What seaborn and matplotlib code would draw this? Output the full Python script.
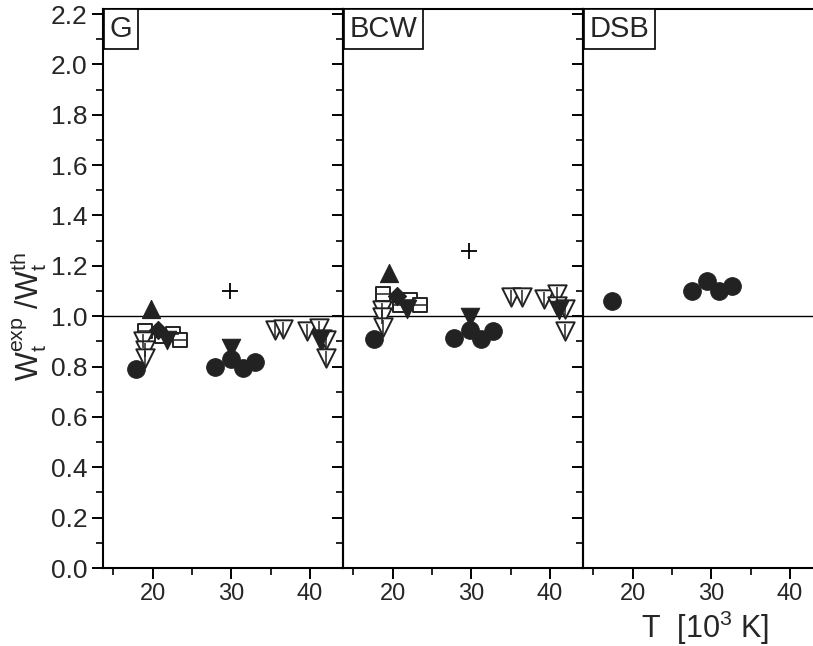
import seaborn as sns
import matplotlib.pyplot as plt
import pandas as pd

# ---- data (T in 10^3 K, ratio W_exp / W_th) ----
panels = ["G", "BCW", "DSB"]

# G
g_circle_T = [17.9, 27.9, 30.0, 31.5, 33.0]
g_circle_W = [0.79, 0.80, 0.83, 0.795, 0.82]
g_tri_up_T = [19.8]
g_tri_up_W = [1.03]
g_diamond_T = [20.7]
g_diamond_W = [0.945]
g_square_T = [19.0, 21.2, 22.6, 23.5]
g_square_W = [0.94, 0.92, 0.93, 0.905]
g_tri_dn_T = [21.8, 30.0, 41.3]
g_tri_dn_W = [0.905, 0.875, 0.905]
g_open_dn_T = [18.8, 19.0, 19.0, 35.6, 36.6, 39.6, 41.1, 41.5, 42.1, 42.1]
g_open_dn_W = [0.90, 0.865, 0.835, 0.945, 0.948, 0.94, 0.952, 0.91, 0.905, 0.835]
g_plus_T = [29.9]
g_plus_W = [1.10]

# BCW
b_circle_T = [17.6, 27.8, 29.8, 31.3, 32.8]
b_circle_W = [0.91, 0.915, 0.945, 0.91, 0.94]
b_tri_up_T = [19.6]
b_tri_up_W = [1.17]
b_diamond_T = [20.5]
b_diamond_W = [1.08]
b_square_T = [18.8, 20.9, 22.2, 23.5]
b_square_W = [1.09, 1.045, 1.065, 1.045]
b_tri_dn_T = [21.8, 29.8, 41.1]
b_tri_dn_W = [1.03, 0.995, 1.025]
b_open_dn_T = [18.6, 18.6, 18.8, 35.1, 36.4, 39.2, 40.9, 40.9, 41.9, 41.9]
b_open_dn_W = [1.025, 0.998, 0.958, 1.075, 1.075, 1.07, 1.09, 1.04, 1.03, 0.94]
b_plus_T = [29.7]
b_plus_W = [1.26]

# DSB
d_circle_T = [17.4, 27.5, 29.5, 31.0, 32.6]
d_circle_W = [1.06, 1.10, 1.14, 1.10, 1.12]

y_ticks = [0.0, 0.2, 0.4, 0.6, 0.8, 1.0, 1.2, 1.4, 1.6, 1.8, 2.0, 2.2]
x_ticks = [20, 30, 40]

sns.set_style("ticks")
plt.rcParams["font.family"] = ["Liberation Sans", "DejaVu Sans"]
plt.rcParams["mathtext.fontset"] = "custom"
plt.rcParams["mathtext.rm"] = "Liberation Sans"
plt.rcParams["mathtext.it"] = "Liberation Sans"

fig = plt.figure(figsize=(8.13, 6.46), dpi=100)
W, H = 813, 646
lefts = [103, 343, 583]
axes = [fig.add_axes([l / W, 78 / H, 240 / W, 559 / H]) for l in lefts]

data = {
    "G": [
        (g_circle_T, g_circle_W, "o", True),
        (g_tri_up_T, g_tri_up_W, "^", True),
        (g_diamond_T, g_diamond_W, "D", True),
        (g_square_T, g_square_W, "s", False),
        (g_tri_dn_T, g_tri_dn_W, "v", True),
        (g_open_dn_T, g_open_dn_W, "v", False),
        (g_plus_T, g_plus_W, "+", True),
    ],
    "BCW": [
        (b_circle_T, b_circle_W, "o", True),
        (b_tri_up_T, b_tri_up_W, "^", True),
        (b_diamond_T, b_diamond_W, "D", True),
        (b_square_T, b_square_W, "s", False),
        (b_tri_dn_T, b_tri_dn_W, "v", True),
        (b_open_dn_T, b_open_dn_W, "v", False),
        (b_plus_T, b_plus_W, "+", True),
    ],
    "DSB": [
        (d_circle_T, d_circle_W, "o", True),
    ],
}

sizes = {"o": 160, "^": 170, "D": 85, "s": 115, "v": 175, "+": 120}

for ax, name in zip(axes, panels):
    ax.axhline(1.0, color="black", lw=1.0, zorder=1)
    for T, Wr, m, filled in data[name]:
        df = pd.DataFrame({"T": T, "W": Wr})
        if m == "+":
            sns.scatterplot(data=df, x="T", y="W", ax=ax, marker="+", s=sizes[m],
                            color="black", linewidth=1.3, zorder=3)
        elif filled:
            sns.scatterplot(data=df, x="T", y="W", ax=ax, marker=m, s=sizes[m],
                            color="#222222", edgecolor="#222222", linewidth=0.8, zorder=3)
        else:
            sns.scatterplot(data=df, x="T", y="W", ax=ax, marker=m, s=sizes[m],
                            facecolors="white", edgecolors="#222222", linewidth=1.4, zorder=2)
            inner = "_" if m == "s" else "|"
            sns.scatterplot(data=df, x="T", y="W", ax=ax, marker=inner,
                            s=sizes[m] * 0.55, color="#222222", linewidth=1.1, zorder=2)
    ax.set_xlim(13.7, 44.2)
    ax.set_ylim(0, 2.22)
    ax.set_xticks(x_ticks)
    ax.set_xticks([15, 25, 35], minor=True)
    ax.set_yticks(y_ticks)
    ax.set_yticks([v / 10 + 0.1 for v in range(0, 22, 2)], minor=True)
    ax.set_xlabel("")
    ax.set_ylabel("")
    ax.tick_params(axis="both", which="major", direction="out", length=8, width=1.4,
                   color="black")
    ax.tick_params(axis="both", which="minor", direction="out", length=5, width=1.2,
                   color="black")
    ax.tick_params(axis="x", labelsize=17, pad=3)
    ax.tick_params(axis="y", labelsize=19, pad=3)
    for s in ax.spines.values():
        s.set_linewidth(1.5)
        s.set_color("black")
    ax.patch.set_alpha(0)
    ax.text(0.028, 0.989, name, transform=ax.transAxes, ha="left", va="top",
            fontsize=21, bbox=dict(boxstyle="square,pad=0.2", fc="white",
                                   ec="black", lw=1.2), zorder=5)
    if ax is not axes[0]:
        ax.tick_params(axis="y", labelleft=False)

axes[0].set_ylabel(r"$\mathregular{W_t^{exp}\ /W_t^{th}}$", fontsize=22)
axes[0].yaxis.set_label_coords(-0.225, 0.45)
fig.text(705 / W, 1 - 628 / H, r"T  [10$^\mathregular{3}$ K]", fontsize=22,
         ha="center", va="center")

fig.savefig("out.png", dpi=100)
